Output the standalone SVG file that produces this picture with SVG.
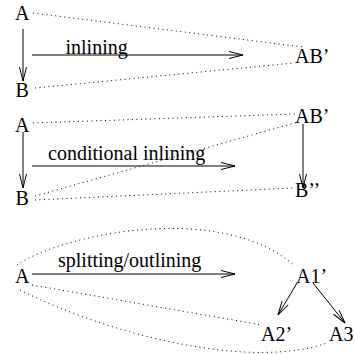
<svg xmlns="http://www.w3.org/2000/svg" width="355" height="354" viewBox="0 0 355 354">
<style>
text{font-family:"Liberation Serif","Times New Roman",serif;font-size:20px;fill:#000}
.arr{stroke:#000;stroke-width:1;fill:none;marker-end:url(#ah)}
.dot{stroke:#000;stroke-width:1;fill:none;stroke-dasharray:1 3.5}
</style>
<defs>
<marker id="ah" markerUnits="userSpaceOnUse" markerWidth="16" markerHeight="10" viewBox="-1 -5 16 10" refX="14" refY="0" orient="auto">
<path d="M0,-3.5 L14,0 L0,3.5" fill="none" stroke="#000" stroke-width="1"/>
</marker>
</defs>
<g id="connectors">
<line class="arr" x1="23" y1="29" x2="23" y2="81"/>
<line class="arr" x1="32" y1="55" x2="243" y2="55"/>
<line class="dot" x1="33" y1="13" x2="303" y2="47"/>
<line class="dot" x1="35" y1="88" x2="294" y2="63"/>
<line class="arr" x1="23" y1="132" x2="23" y2="188"/>
<line class="arr" x1="303" y1="124" x2="303" y2="188"/>
<line class="arr" x1="32" y1="166" x2="235" y2="166"/>
<line class="dot" x1="33" y1="123" x2="295" y2="114"/>
<line class="dot" x1="35" y1="196" x2="298" y2="122"/>
<line class="dot" x1="35" y1="200" x2="293" y2="188"/>
<line class="arr" x1="32" y1="274" x2="235" y2="274"/>
<line class="arr" x1="297" y1="283" x2="278" y2="315"/>
<line class="arr" x1="313" y1="283" x2="345" y2="323"/>
<line class="dot" x1="32" y1="285" x2="262" y2="325"/>
<path class="dot" d="M17,265 C60,235 220,200 295,266"/>
<path class="dot" d="M20,290 C110,335 250,370 327,343"/>
</g>
<g id="A1"><text x="15" y="20">A</text></g>
<g id="B1"><text x="15.5" y="97">B</text></g>
<g id="AB1"><text x="295" y="63">AB’</text></g>
<g id="label-inlining"><text x="65.5" y="54">inlining</text></g>
<g id="A2"><text x="15" y="132">A</text></g>
<g id="B2"><text x="15.5" y="205">B</text></g>
<g id="AB2"><text x="295" y="123">AB’</text></g>
<g id="B3"><text x="295" y="197">B’’</text></g>
<g id="label-conditional"><text x="48" y="160">conditional inlining</text></g>
<g id="A3node"><text x="15" y="283">A</text></g>
<g id="A1p"><text x="296" y="283">A1’</text></g>
<g id="A2p"><text x="261" y="341">A2’</text></g>
<g id="A3"><text x="329" y="341">A3</text></g>
<g id="label-splitting"><text x="58" y="267">splitting/outlining</text></g>
</svg>
